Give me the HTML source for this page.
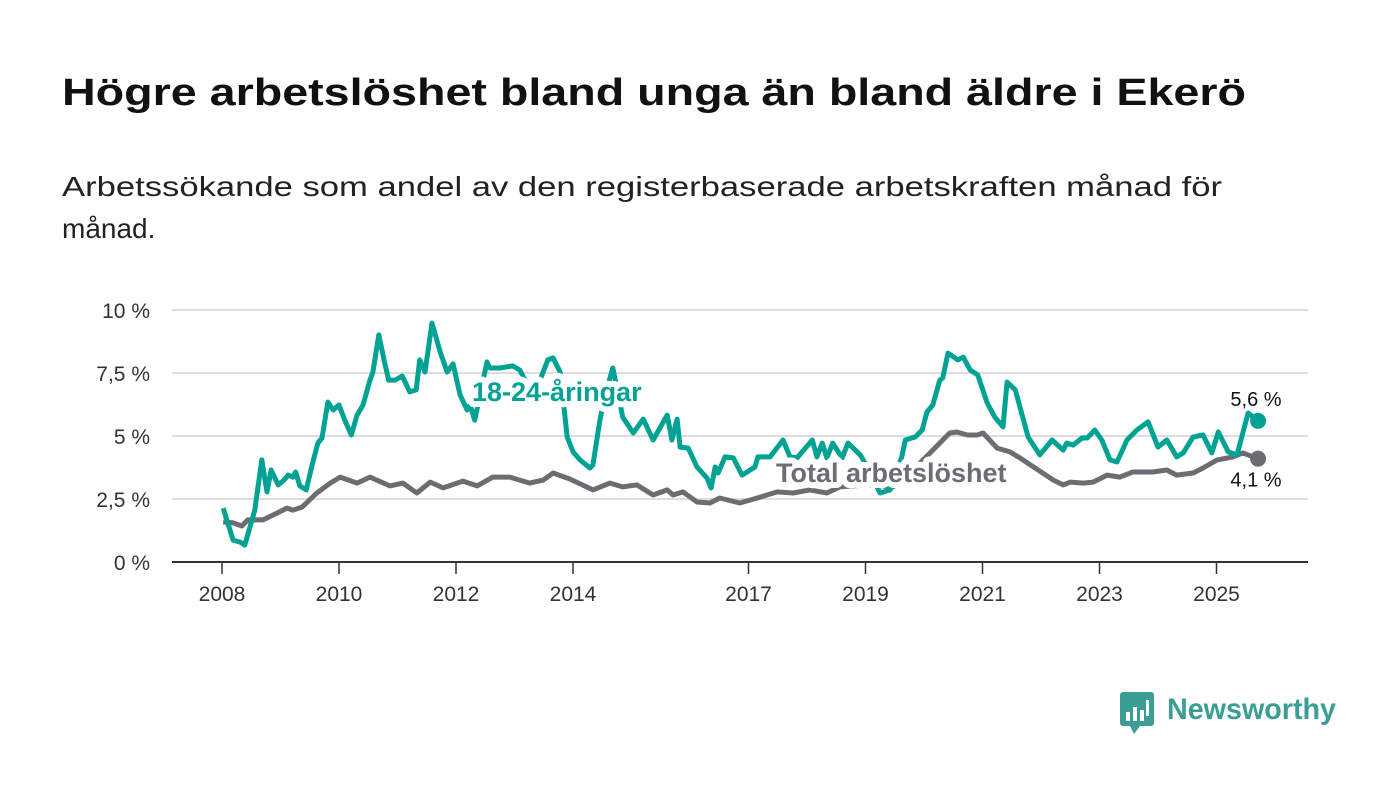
<!DOCTYPE html>
<html><head><meta charset="utf-8"><style>
html,body{margin:0;padding:0;background:#fff;}
svg{display:block;font-family:"Liberation Sans",sans-serif;}
</style></head><body>
<svg id="chart" width="1400" height="794" viewBox="0 0 1400 794">
<text x="62" y="105" font-size="38" font-weight="bold" fill="#111" textLength="1184" lengthAdjust="spacingAndGlyphs">Högre arbetslöshet bland unga än bland äldre i Ekerö</text>
<text x="62" y="196" font-size="28" fill="#222" textLength="1160" lengthAdjust="spacingAndGlyphs">Arbetssökande som andel av den registerbaserade arbetskraften månad för</text>
<text x="62" y="238" font-size="28" fill="#222">månad.</text>
<g id="grid"></g>
<g id="series"></g>
<g id="labels"></g>
<g>
<rect x="1120" y="692" width="34" height="34" rx="3" fill="#3a9e94"/>
<polygon points="1130,726 1140,726 1134,734" fill="#3a9e94"/>
<rect x="1126" y="712" width="4" height="9" fill="#fff"/><rect x="1133" y="707" width="4" height="14" fill="#fff"/><rect x="1140" y="710" width="4" height="11" fill="#fff"/><rect x="1146" y="700" width="3" height="16" fill="#fff"/>
<text x="1167" y="719" font-size="30" font-weight="bold" fill="#3a9e94" textLength="169" lengthAdjust="spacingAndGlyphs">Newsworthy</text>
</g>
</svg>
<script>
const yTicks=[0,2.5,5,7.5,10];
const yTickLabels=["0 %","2,5 %","5 %","7,5 %","10 %"];
const xTicks=[2008,2010,2012,2014,2017,2019,2021,2023,2025];
const youthDates=[2008.02,2008.19,2008.31,2008.39,2008.56,2008.68,2008.77,2008.84,2008.96,2009.06,2009.13,2009.21,2009.26,2009.33,2009.44,2009.54,2009.64,2009.71,2009.81,2009.90,2010.00,2010.10,2010.21,2010.31,2010.41,2010.53,2010.58,2010.68,2010.77,2010.85,2010.96,2011.08,2011.21,2011.32,2011.38,2011.47,2011.59,2011.73,2011.85,2011.95,2012.07,2012.19,2012.24,2012.32,2012.53,2012.58,2012.75,2012.97,2013.09,2013.25,2013.40,2013.57,2013.66,2013.78,2013.90,2014.00,2014.12,2014.29,2014.34,2014.46,2014.55,2014.68,2014.85,2015.03,2015.20,2015.37,2015.61,2015.69,2015.78,2015.83,2015.97,2016.12,2016.29,2016.36,2016.43,2016.48,2016.60,2016.74,2016.89,2017.11,2017.16,2017.37,2017.59,2017.71,2017.83,2018.09,2018.17,2018.26,2018.34,2018.44,2018.60,2018.70,2018.91,2018.96,2019.25,2019.42,2019.62,2019.68,2019.85,2019.97,2020.05,2020.15,2020.27,2020.32,2020.41,2020.58,2020.67,2020.79,2020.92,2021.08,2021.21,2021.35,2021.42,2021.56,2021.78,2021.98,2022.19,2022.38,2022.44,2022.55,2022.70,2022.79,2022.92,2023.04,2023.18,2023.30,2023.47,2023.64,2023.83,2024.00,2024.15,2024.32,2024.43,2024.60,2024.77,2024.92,2025.03,2025.20,2025.35,2025.54,2025.71];
const youthValues=[2.14,0.87,0.79,0.67,2.06,4.05,2.78,3.65,3.06,3.25,3.45,3.37,3.57,3.02,2.86,3.85,4.72,4.92,6.35,6.03,6.23,5.63,5.04,5.83,6.23,7.22,7.54,9.01,8.02,7.22,7.22,7.38,6.75,6.83,8.02,7.54,9.48,8.33,7.54,7.86,6.63,6.03,6.23,5.63,7.94,7.70,7.70,7.78,7.62,6.9,7.0,8.02,8.10,7.54,4.96,4.37,4.05,3.73,3.85,5.63,6.63,7.70,5.75,5.12,5.67,4.84,5.83,4.84,5.67,4.56,4.52,3.77,3.33,2.94,3.77,3.53,4.17,4.13,3.45,3.77,4.17,4.17,4.84,4.17,4.13,4.84,4.17,4.72,4.13,4.72,4.13,4.72,4.25,4.05,2.74,2.86,4.17,4.84,4.96,5.24,5.95,6.23,7.22,7.30,8.29,8.02,8.13,7.62,7.42,6.31,5.75,5.36,7.14,6.83,4.96,4.25,4.84,4.44,4.72,4.64,4.92,4.92,5.24,4.84,4.05,3.97,4.84,5.24,5.56,4.56,4.84,4.17,4.33,4.96,5.04,4.33,5.16,4.37,4.25,5.91,5.6];
const totalDates=[2008.02,2008.19,2008.34,2008.44,2008.70,2008.94,2009.11,2009.21,2009.37,2009.62,2009.85,2010.02,2010.31,2010.53,2010.87,2011.09,2011.33,2011.56,2011.78,2012.12,2012.36,2012.63,2012.92,2013.26,2013.49,2013.66,2013.95,2014.34,2014.63,2014.85,2015.09,2015.37,2015.61,2015.71,2015.88,2016.12,2016.34,2016.51,2016.85,2017.15,2017.49,2017.76,2018.05,2018.34,2018.56,2019.03,2019.47,2019.59,2020.15,2020.44,2020.56,2020.74,2020.91,2021.01,2021.25,2021.47,2021.64,2022.21,2022.38,2022.50,2022.72,2022.89,2023.13,2023.35,2023.57,2023.91,2024.15,2024.32,2024.60,2024.77,2025.01,2025.28,2025.45,2025.71];
const totalValues=[1.59,1.55,1.43,1.67,1.67,1.94,2.14,2.06,2.18,2.74,3.13,3.37,3.13,3.37,3.02,3.13,2.74,3.17,2.94,3.21,3.02,3.37,3.37,3.13,3.25,3.53,3.29,2.86,3.13,2.98,3.06,2.66,2.86,2.66,2.78,2.38,2.34,2.54,2.34,2.54,2.78,2.74,2.86,2.74,2.98,3.06,2.98,3.13,4.44,5.12,5.16,5.04,5.04,5.12,4.52,4.37,4.13,3.25,3.06,3.17,3.13,3.17,3.45,3.37,3.57,3.57,3.65,3.45,3.53,3.73,4.05,4.17,4.33,4.1];
const NS="http://www.w3.org/2000/svg";
const X=y=>222+(y-2008)*58.5;
const Y=v=>562-v*25.2;
function mk(tag,attrs,parent){const e=document.createElementNS(NS,tag);for(const k in attrs)e.setAttribute(k,attrs[k]);parent.appendChild(e);return e;}
const grid=document.getElementById('grid');
yTicks.forEach((t,i)=>{
  const l=mk('line',{x1:172,x2:1308,y1:Y(t),y2:Y(t),stroke:t===0?'#333':'#ddd','stroke-width':2},grid);
  
  
  const tx=mk('text',{x:150,y:Y(t)+8,'font-size':21,fill:'#333','text-anchor':'end'},grid);
  tx.textContent=yTickLabels[i];
  
  
});
xTicks.forEach(t=>{
  const l=mk('line',{x1:X(t),x2:X(t),y1:562,y2:574,stroke:'#333','stroke-width':1.5},grid);
  
  
  const tx=mk('text',{x:X(t),y:601,'font-size':21,fill:'#333','text-anchor':'middle'},grid);
  tx.textContent=String(t);
  
  
});
const ser=document.getElementById('series');
function line(dates,vals,color,name){
  const d=dates.map((t,i)=>(i?'L':'M')+X(t).toFixed(1)+','+Y(vals[i]).toFixed(1)).join('');
  const p=mk('path',{d:d,fill:'none',stroke:color,'stroke-width':5,'stroke-linejoin':'round'},ser);
  
  
  const n=dates.length-1;
  const c=mk('circle',{cx:X(dates[n]),cy:Y(vals[n]),r:8,fill:color},ser);
  
  
}
line(totalDates,totalValues,'#6e6b72','total-line');
line(youthDates,youthValues,'#00a393','youth-line');
const lab=document.getElementById('labels');
function label(x,y,txt,color,name,size,weight,anchor,halo){
  const t=mk('text',{x:x,y:y,'font-size':size,'font-weight':weight,fill:color,'text-anchor':anchor,stroke:'#fff','stroke-width':halo,'paint-order':'stroke','stroke-linejoin':'round'},lab);
  t.textContent=txt;
  
  
}
label(472,401,'18-24-åringar','#00a393','youth-series-label',27,'bold','start',12);
label(776,482,'Total arbetslöshet','#6e6b72','total-series-label',27,'bold','start',12);
const nY=youthValues.length-1, nT=totalValues.length-1;
label(1256,Y(youthValues[nY])-15,youthValues[nY].toFixed(1).replace('.',',')+' %','#111','youth-end-value',20,'normal','middle',5);
label(1256,Y(totalValues[nT])+28,totalValues[nT].toFixed(1).replace('.',',')+' %','#111','total-end-value',20,'normal','middle',5);
</script>
</body></html>
